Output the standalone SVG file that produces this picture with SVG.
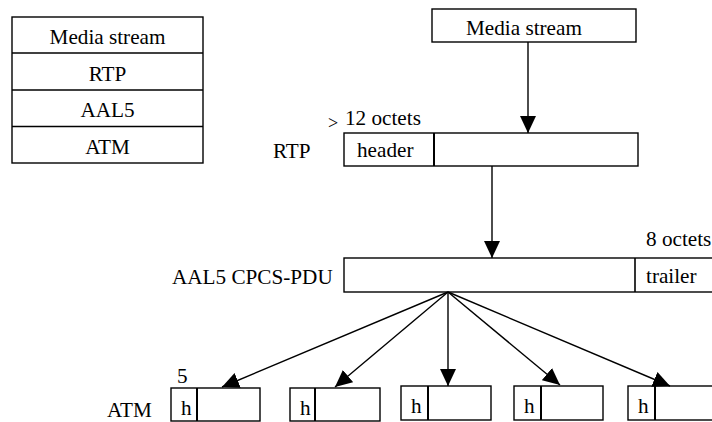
<svg xmlns="http://www.w3.org/2000/svg" width="712" height="422" viewBox="0 0 712 422">
  <style>
    text { font-family: "Liberation Serif", "Times New Roman", serif; font-size: 21.2px; fill: #000; }
    .box { fill: #fff; stroke: #000; stroke-width: 1.4; }
    .div { stroke: #000; stroke-width: 2; }
    .rule { stroke: #000; stroke-width: 1.4; }
    .conn { stroke: #000; stroke-width: 1.4; fill: none; marker-end: url(#arrow); }
    .mid { text-anchor: middle; }
  </style>
  <defs>
    <marker id="arrow" markerUnits="userSpaceOnUse" markerWidth="18" markerHeight="18" viewBox="0 0 18 18" refX="17" refY="9" orient="auto">
      <path d="M0,1 L17,9 L0,17 Z" fill="#000"/>
    </marker>
  </defs>

  <!-- protocol stack -->
  <g id="stack">
    <rect class="box" x="12" y="17" width="191" height="146"/>
    <line class="rule" x1="12" y1="53" x2="203" y2="53"/>
    <line class="rule" x1="12" y1="90" x2="203" y2="90"/>
    <line class="rule" x1="12" y1="126.5" x2="203" y2="126.5"/>
    <text class="mid" x="107.5" y="44">Media stream</text>
    <text class="mid" x="107.5" y="81">RTP</text>
    <text class="mid" x="107.5" y="117">AAL5</text>
    <text class="mid" x="107.5" y="154">ATM</text>
  </g>

  <!-- media stream source -->
  <g id="media">
    <rect class="box" x="432" y="9" width="204" height="33"/>
    <text x="466" y="35">Media stream</text>
  </g>

  <!-- RTP packet -->
  <g id="rtp">
    <text x="273" y="158">RTP</text>
    <text x="328" y="129" style="font-size:18px">&gt;</text>
    <text x="345" y="125">12 octets</text>
    <rect class="box" x="344" y="133" width="294" height="33"/>
    <line class="div" x1="434" y1="133" x2="434" y2="166"/>
    <text x="357" y="157">header</text>
  </g>

  <!-- AAL5 CPCS-PDU -->
  <g id="aal5">
    <text x="172" y="284">AAL5 CPCS-PDU</text>
    <text x="646" y="246">8 octets</text>
    <rect class="box" x="344" y="258" width="372" height="34"/>
    <line class="div" x1="635" y1="258" x2="635" y2="292" style="stroke-width:1.6"/>
    <text x="646" y="283">trailer</text>
  </g>

  <!-- ATM cells -->
  <g id="atm">
    <text x="107" y="417">ATM</text>
    <text x="177" y="383">5</text>
  </g>
  <g id="cell1">
    <rect class="box" x="171" y="388" width="89" height="33"/>
    <line class="div" x1="197" y1="388" x2="197" y2="421"/>
    <text x="181" y="415">h</text>
  </g>
  <g id="cell2">
    <rect class="box" x="290" y="388" width="90" height="33"/>
    <line class="div" x1="315" y1="388" x2="315" y2="421"/>
    <text x="300" y="415">h</text>
  </g>
  <g id="cell3">
    <rect class="box" x="401" y="386" width="90" height="34"/>
    <line class="div" x1="428" y1="386" x2="428" y2="420"/>
    <text x="411" y="413">h</text>
  </g>
  <g id="cell4">
    <rect class="box" x="514" y="386" width="89" height="34"/>
    <line class="div" x1="541" y1="386" x2="541" y2="420"/>
    <text x="524" y="413">h</text>
  </g>
  <g id="cell5">
    <rect class="box" x="628" y="386" width="90" height="34"/>
    <line class="div" x1="655" y1="386" x2="655" y2="420"/>
    <text x="638" y="413">h</text>
  </g>

  <!-- connectors -->
  <g id="connectors">
    <line class="conn" x1="528" y1="42" x2="528" y2="133"/>
    <line class="conn" x1="492" y1="166" x2="492" y2="258"/>
    <line class="conn" x1="448" y1="292" x2="222" y2="387"/>
    <line class="conn" x1="448" y1="292" x2="335" y2="387"/>
    <line class="conn" x1="448" y1="292" x2="448" y2="386"/>
    <line class="conn" x1="448" y1="292" x2="560" y2="385"/>
    <line class="conn" x1="448" y1="292" x2="670" y2="386"/>
  </g>
</svg>
